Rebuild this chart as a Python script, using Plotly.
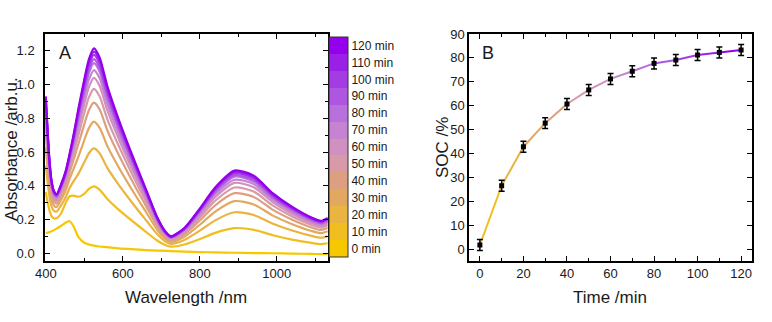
import plotly.graph_objects as go

# ---------------- Panel A: UV-vis spectra during charging ----------------
WAVELENGTH = [400, 405, 410, 415, 421, 428, 440, 452, 462, 472, 485, 500, 512, 525,
              540, 560, 590, 630, 660, 690, 710, 725, 760, 800, 840, 890, 940, 990,
              1040, 1090, 1115, 1132]

ABS_0 = [0.120, 0.122, 0.125, 0.130, 0.137, 0.146, 0.163, 0.182, 0.190, 0.160, 0.095, 0.062,
         0.052, 0.045, 0.040, 0.036, 0.029, 0.023, 0.019, 0.016, 0.014, 0.013, 0.010, 0.007,
         0.005, 0.003, 0.001, 0.000, -0.002, -0.004, -0.005, -0.006]
ABS_10 = [0.363, 0.301, 0.250, 0.220, 0.207, 0.207, 0.237, 0.300, 0.338, 0.342, 0.335, 0.352,
          0.381, 0.396, 0.376, 0.322, 0.257, 0.181, 0.127, 0.074, 0.049, 0.039, 0.052, 0.084,
          0.121, 0.149, 0.139, 0.107, 0.081, 0.061, 0.054, 0.059]
ABS_20 = [0.519, 0.417, 0.330, 0.278, 0.252, 0.247, 0.285, 0.334, 0.387, 0.426, 0.472, 0.539,
          0.593, 0.622, 0.592, 0.506, 0.404, 0.283, 0.197, 0.112, 0.071, 0.056, 0.079, 0.134,
          0.195, 0.243, 0.227, 0.175, 0.135, 0.103, 0.092, 0.101]
ABS_30 = [0.629, 0.498, 0.386, 0.318, 0.283, 0.274, 0.318, 0.375, 0.441, 0.499, 0.575, 0.670,
          0.742, 0.780, 0.743, 0.635, 0.507, 0.354, 0.246, 0.138, 0.087, 0.068, 0.098, 0.169,
          0.247, 0.309, 0.289, 0.223, 0.172, 0.132, 0.119, 0.130]
ABS_40 = [0.707, 0.556, 0.426, 0.348, 0.306, 0.294, 0.342, 0.405, 0.480, 0.552, 0.650, 0.764,
          0.848, 0.893, 0.852, 0.728, 0.581, 0.405, 0.281, 0.157, 0.098, 0.076, 0.112, 0.194,
          0.284, 0.356, 0.334, 0.257, 0.199, 0.153, 0.138, 0.151]
ABS_50 = [0.764, 0.597, 0.455, 0.369, 0.322, 0.308, 0.359, 0.427, 0.508, 0.589, 0.703, 0.832,
          0.925, 0.975, 0.930, 0.794, 0.634, 0.442, 0.306, 0.170, 0.106, 0.082, 0.121, 0.212,
          0.311, 0.390, 0.366, 0.282, 0.218, 0.168, 0.152, 0.166]
ABS_60 = [0.809, 0.630, 0.478, 0.385, 0.335, 0.319, 0.373, 0.444, 0.530, 0.619, 0.745, 0.885,
          0.985, 1.040, 0.992, 0.847, 0.676, 0.471, 0.326, 0.181, 0.113, 0.087, 0.129, 0.226,
          0.332, 0.417, 0.391, 0.302, 0.233, 0.180, 0.162, 0.178]
ABS_70 = [0.841, 0.654, 0.494, 0.397, 0.344, 0.328, 0.383, 0.456, 0.546, 0.641, 0.776, 0.924,
          1.029, 1.086, 1.037, 0.885, 0.706, 0.492, 0.340, 0.189, 0.117, 0.090, 0.135, 0.237,
          0.348, 0.436, 0.410, 0.316, 0.245, 0.188, 0.170, 0.186]
ABS_80 = [0.869, 0.675, 0.509, 0.408, 0.353, 0.335, 0.392, 0.467, 0.560, 0.660, 0.803, 0.957,
          1.068, 1.127, 1.076, 0.919, 0.733, 0.511, 0.353, 0.196, 0.121, 0.094, 0.140, 0.246,
          0.361, 0.454, 0.426, 0.328, 0.254, 0.196, 0.177, 0.194]
ABS_90 = [0.886, 0.687, 0.517, 0.414, 0.357, 0.339, 0.396, 0.473, 0.568, 0.670, 0.818, 0.977,
          1.090, 1.151, 1.098, 0.938, 0.748, 0.521, 0.360, 0.199, 0.124, 0.095, 0.142, 0.251,
          0.369, 0.463, 0.435, 0.335, 0.260, 0.200, 0.181, 0.198]
ABS_100 = [0.903, 0.700, 0.526, 0.420, 0.362, 0.343, 0.402, 0.480, 0.577, 0.682, 0.835, 0.998,
           1.114, 1.176, 1.123, 0.959, 0.765, 0.533, 0.368, 0.204, 0.126, 0.097, 0.145, 0.257,
           0.377, 0.474, 0.445, 0.343, 0.266, 0.205, 0.186, 0.203]
ABS_110 = [0.917, 0.710, 0.533, 0.425, 0.366, 0.347, 0.406, 0.485, 0.584, 0.691, 0.848, 1.015,
           1.132, 1.196, 1.142, 0.975, 0.778, 0.542, 0.374, 0.207, 0.128, 0.099, 0.148, 0.261,
           0.384, 0.482, 0.453, 0.349, 0.271, 0.209, 0.189, 0.207]
ABS_120 = [0.930, 0.720, 0.540, 0.430, 0.370, 0.350, 0.410, 0.490, 0.590, 0.700, 0.860, 1.030,
           1.150, 1.215, 1.160, 0.990, 0.790, 0.550, 0.380, 0.210, 0.130, 0.100, 0.150, 0.265,
           0.390, 0.490, 0.460, 0.355, 0.275, 0.212, 0.192, 0.210]

MINUTES = [0, 10, 20, 30, 40, 50, 60, 70, 80, 90, 100, 110, 120]
SPECTRA = [ABS_0, ABS_10, ABS_20, ABS_30, ABS_40, ABS_50, ABS_60,
           ABS_70, ABS_80, ABS_90, ABS_100, ABS_110, ABS_120]
PALETTE = ["#F6C800", "#F0BE20", "#EAB440", "#E2A860", "#DCA080", "#D89AA8", "#D090C0",
           "#C484D2", "#B870DC", "#AE56E0", "#A43CE4", "#9A20E8", "#9400EC"]

# ---------------- Panel B: state of charge vs time ----------------
TIME = [0, 10, 20, 30, 40, 50, 60, 70, 80, 90, 100, 110, 120]
SOC = [1.7, 26.5, 42.8, 52.7, 60.7, 66.6, 71.2, 74.4, 77.7, 79.1, 81.2, 82.3, 83.3]
SOC_ERR = [2.3, 2.3, 2.3, 2.3, 2.3, 2.3, 2.3, 2.3, 2.3, 2.3, 2.3, 2.3, 2.3]

W, H = 772, 322
FONT = "Liberation Sans, Arial, sans-serif"
INK = "#1a1a1a"


def px(x):
    return x / W


def py(y):
    return (H - y) / H


fig = go.Figure()

for minutes, spectrum, color in zip(MINUTES, SPECTRA, PALETTE):
    fig.add_trace(go.Scatter(
        x=WAVELENGTH, y=spectrum, mode="lines", name=f"{minutes} min",
        line=dict(color=color, width=2.2, shape="spline", smoothing=0.7),
        xaxis="x", yaxis="y", showlegend=False, hoverinfo="skip"))

# stepped colour scale for the time colour bar
n = len(MINUTES)
colorscale = []
for k, c in enumerate(PALETTE):
    colorscale += [[k / n, c], [(k + 1) / n, c]]

fig.add_trace(go.Scatter(
    x=[None], y=[None], mode="markers", showlegend=False, hoverinfo="skip",
    xaxis="x", yaxis="y",
    marker=dict(
        color=[MINUTES[0]], cmin=MINUTES[0] - 5, cmax=MINUTES[-1] + 5,
        colorscale=colorscale, showscale=True,
        colorbar=dict(
            xref="container", yref="container",
            x=px(329), xanchor="left", y=py(257), yanchor="bottom",
            lenmode="pixels", len=220, thicknessmode="pixels", thickness=19,
            xpad=0, ypad=0, outlinewidth=1, outlinecolor="#333",
            tickvals=MINUTES, ticktext=[f"{m} min" for m in MINUTES],
            ticks="",
            tickfont=dict(family=FONT, size=12, color=INK),
        ),
    ),
))

# fitted trend, coloured by elapsed time
for i in range(len(TIME) - 1):
    fig.add_trace(go.Scatter(
        x=TIME[i:i + 2], y=SOC[i:i + 2], mode="lines",
        line=dict(color=PALETTE[i + 1], width=2),
        xaxis="x2", yaxis="y2", showlegend=False, hoverinfo="skip"))

fig.add_trace(go.Scatter(
    x=TIME, y=SOC, mode="markers",
    marker=dict(symbol="square", size=5, color="black"),
    error_y=dict(type="data", array=SOC_ERR, color="black", thickness=1.5, width=3),
    xaxis="x2", yaxis="y2", showlegend=False))

axis_common = dict(
    showline=True, linecolor="black", linewidth=1.5, mirror="ticks",
    ticks="inside", ticklen=5, tickwidth=1.2, tickcolor="black",
    showgrid=False, zeroline=False, automargin=False,
    tickfont=dict(family=FONT, size=13, color=INK),
)

fig.update_layout(
    width=W, height=H,
    margin=dict(l=0, r=0, t=0, b=0, autoexpand=False),
    paper_bgcolor="white", plot_bgcolor="white",
    font=dict(family=FONT, color=INK),
    xaxis=dict(domain=[px(45), px(328)], range=[398, 1133], tick0=400, dtick=200,
               minor=dict(dtick=100, ticks="inside", ticklen=3, tickcolor="black"),
               anchor="y", **axis_common),
    yaxis=dict(domain=[py(261), py(34)], range=[-0.046, 1.30], tick0=0, dtick=0.2,
               tickformat=".1f", ticklabelstandoff=6,
               minor=dict(dtick=0.1, ticks="inside", ticklen=3, tickcolor="black"),
               anchor="x", **axis_common),
    xaxis2=dict(domain=[px(469), px(752)], range=[-5, 125], tick0=0, dtick=20,
                minor=dict(dtick=10, ticks="inside", ticklen=3, tickcolor="black"),
                anchor="y2", **axis_common),
    yaxis2=dict(domain=[py(261), py(34)], range=[-5, 90], tick0=0, dtick=10,
                anchor="x2", **axis_common),
)

annotations = [
    dict(text="A", x=px(57), y=py(53), xanchor="left", yanchor="middle", font_size=18),
    dict(text="B", x=px(480), y=py(53), xanchor="left", yanchor="middle", font_size=18),
    dict(text="Absorbance /arb.u.", x=px(11), y=py(149), textangle=-90,
         xanchor="center", yanchor="middle", font_size=17),
    dict(text="Wavelength /nm", x=px(186), y=py(297),
         xanchor="center", yanchor="middle", font_size=17),
    dict(text="SOC /%", x=px(442), y=py(148), textangle=-90,
         xanchor="center", yanchor="middle", font_size=17),
    dict(text="Time /min", x=px(610), y=py(297),
         xanchor="center", yanchor="middle", font_size=17),
]
for a in annotations:
    fig.add_annotation(xref="paper", yref="paper", showarrow=False,
                       font=dict(family=FONT, color=INK, size=a.pop("font_size")), **a)

fig.write_html("out.html")
